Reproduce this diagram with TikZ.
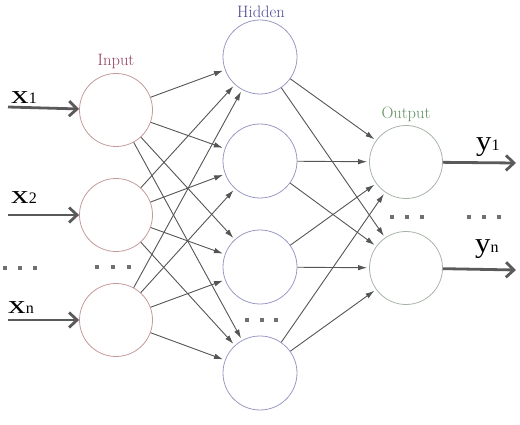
\documentclass[tikz,border=0pt]{standalone}
\usepackage{fontspec}
\newfontfamily\lblfont{Liberation Serif}
\usetikzlibrary{arrows.meta}
\definecolor{inred}{HTML}{C49A9A}
\definecolor{hidblue}{HTML}{9A9AC4}
\definecolor{outgreen}{HTML}{A8B4A8}
\definecolor{intext}{HTML}{944060}
\definecolor{hidtext}{HTML}{4A4A96}
\definecolor{outtext}{HTML}{5E905E}
\definecolor{linegray}{HTML}{555555}
\definecolor{iogray}{HTML}{5A5A5A}
\definecolor{dotgray}{HTML}{707070}
\newcommand{\bigx}[1]{{\lblfont\fontsize{26}{26}\selectfont\scalebox{1.35}[1]{x}}{\lblfont\fontsize{16}{16}\selectfont #1}}
\newcommand{\bigy}[1]{{\lblfont\fontsize{28}{28}\selectfont\scalebox{1.1}[1]{y}}{\lblfont\fontsize{16}{16}\selectfont #1}}
\newcommand{\dotrow}[3]{\foreach \dx in {#1,#2,#3}{\fill[dotgray] (\dx-2,\dy-2) rectangle (\dx+2,\dy+2);}}
\begin{document}
\begin{tikzpicture}[x=1pt,y=-1pt,
  neuron/.style={circle, line width=0.8pt, minimum size=73pt, inner sep=0pt},
  innode/.style={neuron, draw=inred},
  hidnode/.style={neuron, draw=hidblue, minimum size=74pt},
  outnode/.style={neuron, draw=outgreen},
  conn/.style={draw=linegray, line width=0.9pt, shorten >=2pt, -{Latex[length=9pt,width=5.5pt]}},
  ioarrow/.style={draw=iogray, line width=2.8pt, -{Straight Barb[length=8pt,width=15pt]}},
  layerlabel/.style={font=\fontsize{16.5}{16.5}\selectfont, inner sep=0pt},
  iolabel/.style={inner sep=0pt, anchor=base west}]
\useasboundingbox (0,0) rectangle (520,425);

% neurons
\node[innode] (i1) at (116,110) {};
\node[innode] (i2) at (116,215) {};
\node[innode] (i3) at (116,320) {};
\node[hidnode] (h1) at (260,57) {};
\node[hidnode] (h2) at (260,161) {};
\node[hidnode] (h3) at (260,267) {};
\node[hidnode] (h4) at (260,373) {};
\node[outnode] (o1) at (406,162) {};
\node[outnode] (o2) at (406,268) {};

% layer labels
\node[layerlabel, text=intext] (linput) at (116,61) {Input};
\node[layerlabel, text=hidtext] (lhidden) at (261,12) {Hidden};
\node[layerlabel, text=outtext] (loutput) at (406,114) {Output};

% connections input -> hidden
\foreach \i in {1,2,3}{
  \foreach \h in {1,2,3,4}{
    \draw[conn] (i\i) -- (h\h);
  }
}
% connections hidden -> output
\foreach \h in {1,2,3,4}{
  \foreach \o in {1,2}{
    \draw[conn] (h\h) -- (o\o);
  }
}

% input arrows
\coordinate (xs1) at (8,107);
\coordinate (xs2) at (8,215);
\coordinate (xs3) at (8,320);
\draw[ioarrow] (xs1) -- (i1);
\draw[ioarrow] (xs2) -- (i2);
\draw[ioarrow] (xs3) -- (i3);
\node[iolabel] (lx1) at (11,104) {\bigx{1}};
\node[iolabel] (lx2) at (11,204) {\bigx{2}};
\node[iolabel] (lxn) at (8,313) {\bigx{n}};

% output arrows
\coordinate (ye1) at (516,163);
\coordinate (ye2) at (516,270);
\draw[ioarrow] (o1) -- (ye1);
\draw[ioarrow] (o2) -- (ye2);
\node[iolabel] (ly1) at (476,151) {\bigy{1}};
\node[iolabel] (lyn) at (475,252) {\bigy{n}};

% dots
\def\dy{268}\dotrow{5}{20}{35}
\def\dy{267}\dotrow{97}{113}{129}
\def\dy{320}\dotrow{247}{262}{276}
\def\dy{217}\dotrow{392}{407}{422}
\def\dy{217}\dotrow{469}{484}{499}
\end{tikzpicture}
\end{document}
